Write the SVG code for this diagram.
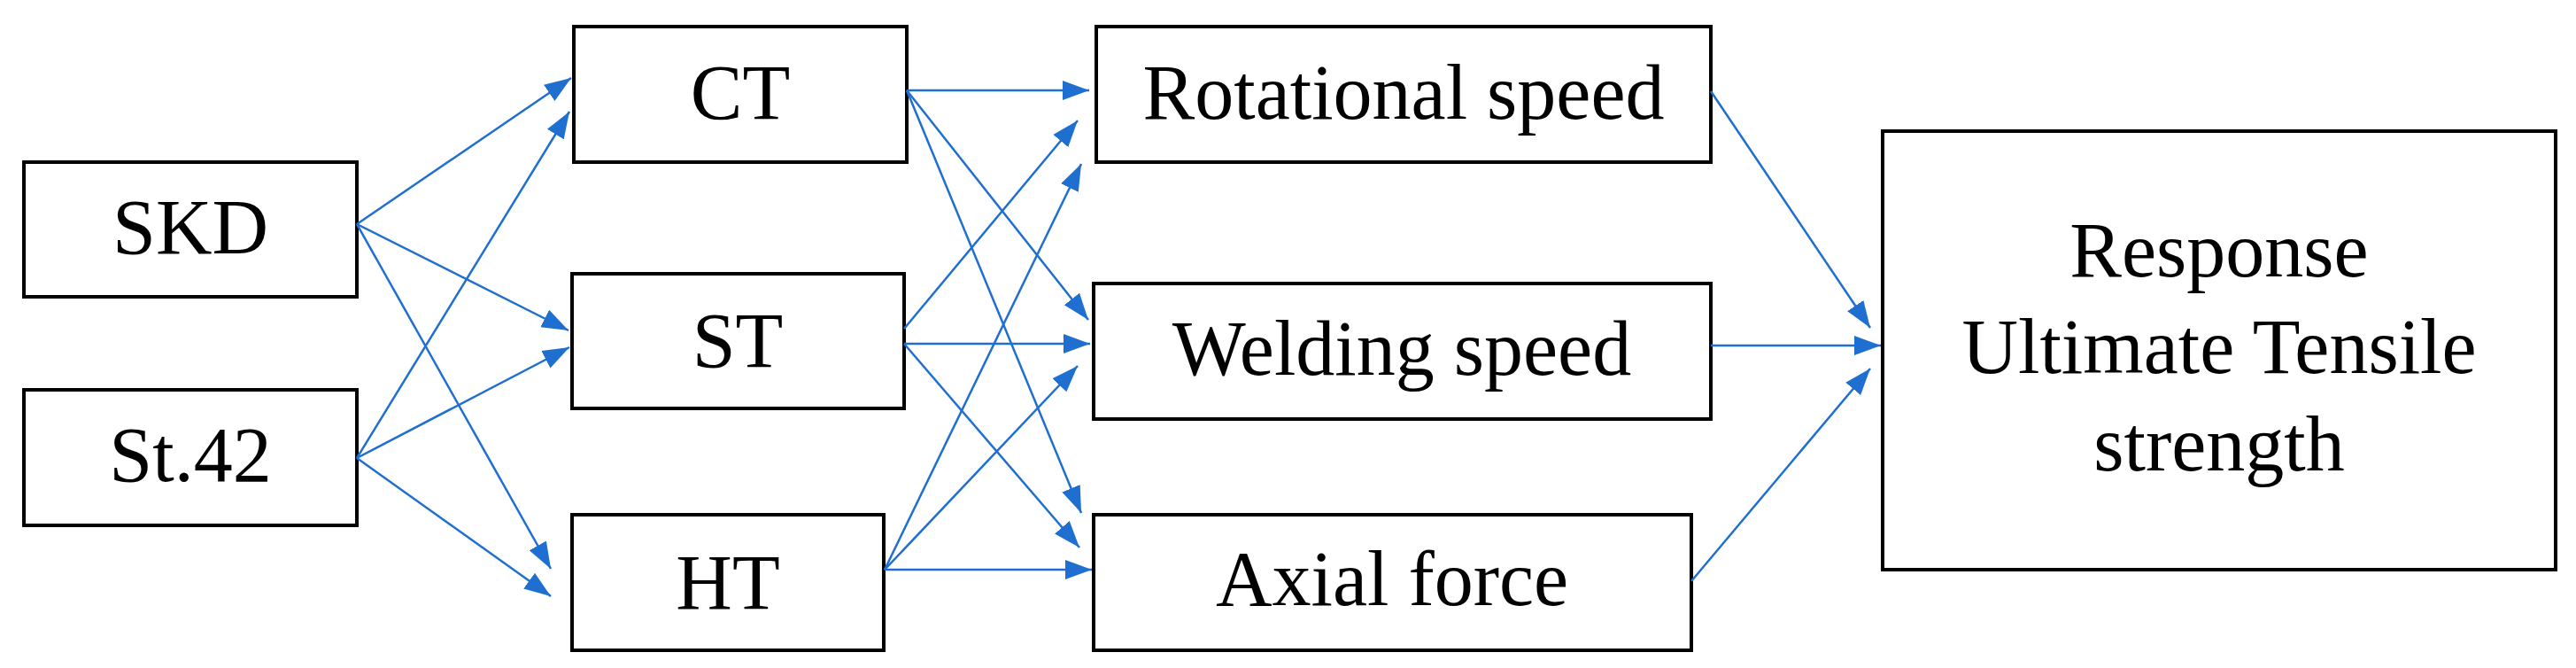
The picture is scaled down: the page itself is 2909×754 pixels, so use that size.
<svg xmlns="http://www.w3.org/2000/svg" width="2909" height="754" viewBox="0 0 2909 754">
<style>
.box{fill:#fff;stroke:#000;stroke-width:4}
.t{font-family:"Liberation Serif",serif;font-size:88px;fill:#000;text-anchor:middle}
.c line{stroke:#1f6fd0;stroke-width:2.5;marker-end:url(#a)}
</style>
<defs><marker id="a" markerUnits="userSpaceOnUse" markerWidth="32" markerHeight="24" refX="30" refY="11" orient="auto" viewBox="0 0 32 22"><path d="M0,0 L30,11 L0,22 Z" fill="#1f6fd0"/></marker></defs>
<rect width="2909" height="754" fill="#fff"/>
<g id="SKD"><rect class="box" x="27" y="183" width="376" height="152"/><text class="t" x="215" y="286">SKD</text></g>
<g id="St42"><rect class="box" x="27" y="440" width="376" height="153"/><text class="t" x="215" y="543">St.42</text></g>
<g id="CT"><rect class="box" x="648" y="30" width="376" height="153"/><text class="t" x="836" y="134">CT</text></g>
<g id="ST"><rect class="box" x="646" y="309" width="375" height="152"/><text class="t" x="833" y="414">ST</text></g>
<g id="HT"><rect class="box" x="646" y="581" width="352" height="153"/><text class="t" x="822" y="687">HT</text></g>
<g id="Rot"><rect class="box" x="1238" y="30" width="694" height="153"/><text class="t" x="1585" y="134">Rotational speed</text></g>
<g id="Weld"><rect class="box" x="1235" y="320" width="697" height="153"/><text class="t" x="1583" y="423">Welding speed</text></g>
<g id="Axial"><rect class="box" x="1235" y="581" width="675" height="153"/><text class="t" x="1572" y="683">Axial force</text></g>
<g id="Resp"><rect class="box" x="2126" y="148" width="760" height="495"/><text class="t" x="2506" y="312">Response</text><text class="t" x="2506" y="421">Ultimate Tensile</text><text class="t" x="2506" y="531">strength</text></g>
<g class="c" id="connectors">
<line x1="403" y1="253" x2="645" y2="88"/>
<line x1="403" y1="253" x2="642" y2="373"/>
<line x1="403" y1="253" x2="622" y2="642"/>
<line x1="403" y1="517" x2="643" y2="126"/>
<line x1="403" y1="517" x2="643" y2="392"/>
<line x1="403" y1="517" x2="622" y2="673"/>
<line x1="1024" y1="102" x2="1230" y2="102"/>
<line x1="1024" y1="102" x2="1229" y2="361"/>
<line x1="1024" y1="102" x2="1221" y2="579"/>
<line x1="1021" y1="371" x2="1217" y2="136"/>
<line x1="1021" y1="388" x2="1231" y2="388"/>
<line x1="1021" y1="388" x2="1219" y2="618"/>
<line x1="999" y1="643" x2="1221" y2="185"/>
<line x1="999" y1="643" x2="1217" y2="413"/>
<line x1="999" y1="643" x2="1233" y2="643"/>
<line x1="1932" y1="103" x2="2112" y2="370"/>
<line x1="1932" y1="390" x2="2124" y2="390"/>
<line x1="1910" y1="656" x2="2112" y2="416"/>
</g>
</svg>
